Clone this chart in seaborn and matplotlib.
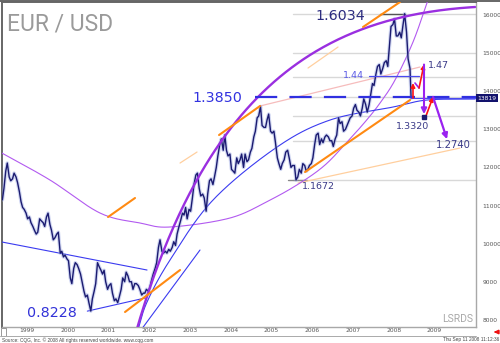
import numpy as np
import pandas as pd
import matplotlib
matplotlib.use("Agg")
import matplotlib.pyplot as plt
import seaborn as sns
from matplotlib.lines import Line2D
from matplotlib.patches import Rectangle
from matplotlib.transforms import ScaledTranslation

# ---------------------------------------------------------------- price data
# EUR/USD (x 10000), sampled on the 1st and 15th of each month
eur_1998 = [11150, 11450, 11900, 12115, 11750, 11650, 11700, 11850]
eur_1999 = [11750, 11600, 11350, 11100, 10950, 10900, 10800, 10650, 10700, 10550, 10450, 10350,
            10250, 10300, 10650, 10600, 10550, 10450, 10700, 10800, 10500, 10350, 10100, 10150]
eur_2000 = [10250, 10300, 9750, 9800, 9650, 9700, 9600, 9550, 9100, 8950, 9350, 9500,
            9450, 9350, 9200, 9000, 8750, 8600, 8650, 8450, 8228, 8550, 8750, 8950]
eur_2001 = [9500, 9400, 9300, 9200, 9300, 9000, 8800, 8900, 8950, 8700, 8500, 8550,
            8450, 8600, 8800, 9100, 9000, 9250, 9150, 9000, 9000, 8800, 8950, 8950]
eur_2002 = [8900, 8800, 8650, 8700, 8700, 8800, 8750, 8850, 9050, 9200, 9350, 9500,
            9900, 10100, 9800, 9750, 9800, 9750, 9850, 9800, 9900, 10050, 9950, 10250]
eur_2003 = [10450, 10600, 10800, 10750, 10950, 10650, 10900, 10850, 11200, 11550, 11800, 11850,
            11450, 11250, 11300, 11200, 10850, 11300, 11650, 11700, 11550, 11750, 12000, 12300]
eur_2004 = [12600, 12750, 12450, 12850, 12450, 12300, 12350, 11950, 11900, 11850, 12250, 12100,
            12200, 12350, 12000, 12350, 12150, 12200, 12400, 12500, 12800, 12950, 13300, 13350]
eur_2005 = [13600, 13100, 13050, 13050, 13250, 13400, 12950, 12900, 12950, 12650, 12250, 12100,
            11950, 12100, 12200, 12400, 12450, 12250, 12000, 12050, 12050, 11672, 11750, 11950]
eur_2006 = [11850, 12100, 12050, 11900, 11950, 12050, 12100, 12250, 12600, 12850, 12900, 12600,
            12750, 12650, 12800, 12850, 12800, 12700, 12700, 12550, 12750, 12850, 13300, 13150]
eur_2007 = [13200, 12950, 13000, 13100, 13200, 13300, 13350, 13550, 13650, 13500, 13450, 13350,
            13550, 13800, 13650, 13450, 13650, 13900, 14200, 14150, 14450, 14650, 14700, 14450]
eur_2008 = [14600, 14750, 14800, 14650, 15200, 15700, 15750, 15900, 15450, 15450, 15550, 15400,
            15750, 16034, 15550, 14850, 14600, 13819]

last_close = 13819
swing_high = 16034
swing_low = 11672
all_time_low = 8228

dates = pd.date_range("1998-09-01", "2008-09-01", freq="SMS").append(
    pd.DatetimeIndex(["2008-09-11"]))
rates = np.concatenate([eur_1998, eur_1999, eur_2000, eur_2001, eur_2002, eur_2003,
                        eur_2004, eur_2005, eur_2006, eur_2007, eur_2008])
df = pd.DataFrame({"year": dates.year + (dates.dayofyear - 1) / 365.25, "rate": rates})

# ------------------------------------------------------- analyst drawings
# (year, rate) anchor points
big_arc_ctrl = [(2001.945, 7680), (2003.687, 14163), (2006.583, 15974), (2010.264, 16210)]
u_arc_pts = [(1998.607, 12404), (1999.834, 11669), (2001.061, 10803), (2002.043, 10541),
             (2002.779, 10436), (2004.252, 10672), (2005.233, 11144), (2005.969, 11590),
             (2006.583, 12063), (2007.123, 12667), (2007.564, 13192), (2007.933, 13690),
             (2008.301, 14294), (2008.742, 15291), (2009.110, 16394)]
blue_arc_pts = [(2001.969, 7653), (2002.215, 8467), (2002.779, 9570), (2003.834, 11144),
                (2005.405, 12535), (2006.706, 13244), (2008.252, 13585), (2009.086, 13769),
                (2010.264, 13795)]
blue_lines = [[(1998.656, 10042), (2002.215, 9307)],
              [(2000.75, all_time_low), (2002.166, 8572)],
              [(2002.067, 7732), (2003.515, 9832)]]
orange_lines = [[(2001.675, 8205), (2003.025, 9307)],
                [(2001.258, 10698), (2001.920, 11197)],
                [(2003.982, 12850), (2004.988, 13612)],
                [(2007.515, 15685), (2008.423, 16341)],
                [(2006.092, 11879), (2008.669, 13769)]]
pale_orange_lines = [[(2003.025, 12115), (2003.442, 12404)],
                     [(2006.166, 14609), (2006.902, 15160)],
                     [(2005.920, 11590), (2009.896, 12509)]]
pink_line = [(2004.988, 13612), (2008.914, 14635)]

fib_ratios = [0.0, 0.236, 0.382, 0.5, 0.618, 0.764, 1.0]
fib_start = 2005.798
level_1385 = 13850
level_144 = 14400
target_147 = 14700
target_1332 = 13320
target_1274 = 12740

years_ticks = list(range(1999, 2010))
rate_ticks = list(range(8000, 16001, 1000))


def catmull(points, n=30):
    pts = np.asarray(points, float)
    p = np.vstack([2 * pts[0] - pts[1], pts, 2 * pts[-1] - pts[-2]])
    t = np.linspace(0, 1, n, endpoint=False)[:, None]
    out = []
    for i in range(1, len(p) - 2):
        p0, p1, p2, p3 = p[i - 1], p[i], p[i + 1], p[i + 2]
        out.append(0.5 * (2 * p1 + (-p0 + p2) * t + (2 * p0 - 5 * p1 + 4 * p2 - p3) * t ** 2
                          + (-p0 + 3 * p1 - 3 * p2 + p3) * t ** 3))
    out.append(pts[-1][None])
    return np.vstack(out)


def bezier(ctrl, n=300):
    c = np.asarray(ctrl, float)
    t = np.linspace(0, 1, n)[:, None]
    return ((1 - t) ** 3 * c[0] + 3 * (1 - t) ** 2 * t * c[1]
            + 3 * (1 - t) * t ** 2 * c[2] + t ** 3 * c[3])


# ------------------------------------------------------------------ figure
sns.set_style("white")
plt.rcParams["font.family"] = ["DejaVu Sans"]

fig = plt.figure(figsize=(5, 3.43), dpi=100)
ax = fig.add_axes([0.004, 0.0466, 0.948, 0.9475])
x0, x1 = 1998.656, 2010.288
ax.set_xlim(x0, x1)
ax.set_ylim(7811, 16341)

# Fibonacci retracement of the 2005 low -> 2008 high
for r in fib_ratios:
    lvl = swing_high - r * (swing_high - swing_low)
    ax.plot([fib_start, x1], [lvl, lvl], color="#d8d8d8", lw=1.0, zorder=1)
ax.plot([2007.933, 2008.546], [swing_high, swing_high], color="#555555", lw=1.0, zorder=2)
ax.plot([2005.675, 2006.141], [swing_low, swing_low], color="#888888", lw=1.0, zorder=2)

# price
sns.lineplot(data=df, x="year", y="rate", ax=ax, color="#98a6e2", lw=2.6, alpha=0.45, zorder=4)
sns.lineplot(data=df, x="year", y="rate", ax=ax, color="#1b1b70", lw=1.0, zorder=5)

# arcs
arc = bezier(big_arc_ctrl)
ax.plot(arc[:, 0], arc[:, 1], color="#9a2fe0", lw=1.7, zorder=6)
u = catmull(u_arc_pts)
ax.plot(u[:, 0], u[:, 1], color="#b25af0", lw=0.8, zorder=3)
b = catmull(blue_arc_pts)
ax.plot(b[:, 0], b[:, 1], color="#3b3bf0", lw=0.8, zorder=3)

for seg in blue_lines:
    (xa, ya), (xb, yb) = seg
    ax.plot([xa, xb], [ya, yb], color="#3b3bf0", lw=0.8, zorder=3)
for seg in orange_lines:
    (xa, ya), (xb, yb) = seg
    ax.plot([xa, xb], [ya, yb], color="#ff8a12", lw=1.5, zorder=6)
for seg in pale_orange_lines:
    (xa, ya), (xb, yb) = seg
    ax.plot([xa, xb], [ya, yb], color="#ffcf9e", lw=0.9, zorder=2)
ax.plot([pink_line[0][0], pink_line[1][0]], [pink_line[0][1], pink_line[1][1]],
        color="#f6bcbc", lw=0.9, zorder=2)

# horizontal levels
ax.plot([2004.865, x1], [level_1385, level_1385], color="#3030e0", lw=1.6,
        dashes=(10, 5.5), zorder=6)
ax.plot([2008.69, x1], [last_close, last_close], color="#4a4af0", lw=0.8, zorder=6)
ax.plot([2007.663, 2008.89], [level_144, level_144], color="#4a4af0", lw=0.9, zorder=6)

# projected path
red = "#ff1414"
purple = "#9a22f0"


def arrow(tail, tip, color, lw, ms):
    ax.annotate("", xy=tip, xytext=tail,
                arrowprops=dict(arrowstyle="-|>", color=color, lw=lw,
                                mutation_scale=ms, shrinkA=0, shrinkB=0), zorder=8)


arrow((2008.742, last_close), (2008.742, 14215), red, 1.2, 6)
ax.plot([2008.791, 2008.890], [14215, 14084], color=purple, lw=1.2, zorder=8)
arrow((2008.890, 14084), (2009.012, target_147), red, 1.2, 6)
arrow((2009.012, target_147), (2009.012, 13400), purple, 1.5, 8)
ax.plot([2009.012], [target_1332], marker="s", ms=2.2, color="#1b1b70", zorder=9)
arrow((2009.061, 13350), (2009.233, level_1385), red, 1.2, 6)
arrow((2009.233, level_1385), (2009.577, target_1274), purple, 1.6, 8)

# value labels
big = dict(fontsize=10.3, va="center", ha="left", zorder=10)
small = dict(fontsize=6.8, va="center", ha="left", zorder=10)
ax.text(2006.337, 15974, f"{swing_high / 10000:.4f}", color="#2c2c80", **big)
ax.text(2003.319, 13810, f"{level_1385 / 10000:.4f}", color="#3232e0", **big)
ax.text(1999.27, 8192, f"{all_time_low / 10000:.4f}", color="#3232d8", **big)
ax.text(2006.018, 11499, f"{swing_low / 10000:.4f}", color="#3a3a88", **small)
ax.text(2008.325, 13073, f"{target_1332 / 10000:.4f}", color="#3a3a88", **small)
ax.text(2009.110, 14688, f"{target_147 / 10000:.2f}", color="#3a3a88", **small)
ax.text(2007.025, 14412, f"{level_144 / 10000:.2f}", color="#5a5ae6", **small)
ax.text(2009.307, 12588, f"{target_1274 / 10000:.4f}", color="#3a3a88",
        fontsize=7.2, va="center", ha="left", zorder=10)

# axes styling
ax.yaxis.tick_right()
ax.set_yticks(rate_ticks)
ax.set_yticklabels([str(v) for v in rate_ticks])
ax.tick_params(axis="y", length=0, pad=4.5, labelsize=4.3, labelcolor="#555555")
ax.set_xticks(years_ticks)
ax.set_xticklabels([str(v) for v in years_ticks])
ax.tick_params(axis="x", direction="out", length=4, width=0.6, color="#999999",
               pad=-3.6, labelsize=4.3, labelcolor="#555555")
shift = ScaledTranslation(2.5 / 72, 0, fig.dpi_scale_trans)
for lab in ax.get_xticklabels():
    lab.set_ha("left")
    lab.set_va("top")
    lab.set_transform(lab.get_transform() + shift)
ax.set_xlabel("")
ax.set_ylabel("")
for side, col, w in [("left", "#666666", 1.4), ("top", "#666666", 1.4),
                     ("right", "#a8a8a8", 1.0), ("bottom", "#a8a8a8", 1.0)]:
    ax.spines[side].set_visible(True)
    ax.spines[side].set_color(col)
    ax.spines[side].set_linewidth(w)

# last price tag
ax.annotate(str(last_close), xy=(1.0, last_close), xycoords=("axes fraction", "data"),
            xytext=(7.9, 0), textcoords="offset points", ha="center", va="center",
            fontsize=4.3, color="white",
            bbox=dict(boxstyle="square,pad=0.2", fc="#12126c", ec="none"),
            annotation_clip=False, zorder=10)

# frame, captions
W, H = 500, 343
fig.add_artist(Line2D([0, 1], [1 - 1 / H, 1 - 1 / H], color="#666666", lw=1.4))
fig.add_artist(Line2D([0, 476 / W], [1 - 336 / H, 1 - 336 / H], color="#aaaaaa", lw=0.7))
fig.add_artist(Rectangle((1 / W, 1 - 336 / H), 5 / W, 8 / H, fill=False,
                         ec="#888888", lw=0.6))
fig.text(7 / W, 1 - 24 / H, "EUR / USD", family="Roboto", fontsize=16.5,
         color="#9a9a9a", ha="left", va="center")
fig.text(442 / W, 1 - 319 / H, "LSRDS", family="Roboto", fontsize=7.5,
         color="#a8a8a8", ha="left", va="center")
fig.text(2 / W, 1 - 340 / H, "Source: CQG, Inc. \u00a9 2008 All rights reserved worldwide. www.cqg.com",
         family="Liberation Sans", fontsize=3.4, color="#444444", ha="left", va="center")
fig.text(499 / W, 1 - 340 / H, "Thu Sep 11 2008 11:12:36", family="Liberation Sans",
         fontsize=3.4, color="#444444", ha="right", va="center")
fig.add_artist(matplotlib.patches.FancyArrowPatch(
    (499 / W, 1 - 332 / H), (491 / W, 1 - 332 / H), transform=fig.transFigure,
    arrowstyle="-|>", mutation_scale=5, color="#ee1111", lw=1.4))

fig.savefig("out.png", dpi=100)
